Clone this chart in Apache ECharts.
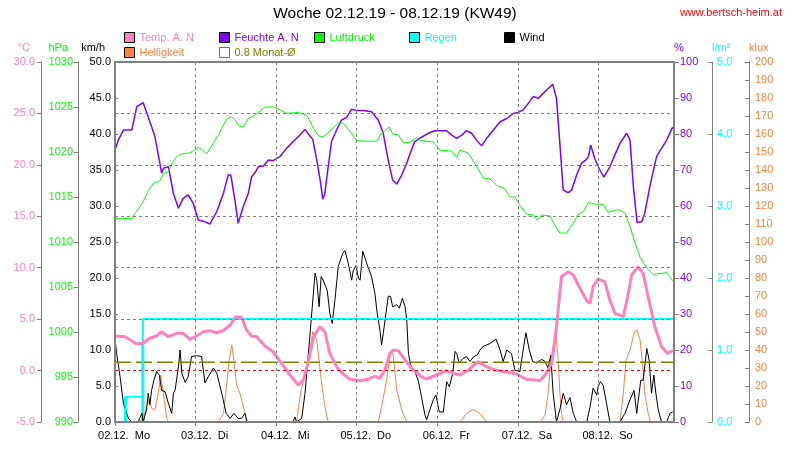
<!DOCTYPE html>
<html><head><meta charset="utf-8">
<script src="https://cdn.jsdelivr.net/npm/echarts@6/dist/echarts.min.js"></script>
<style>html,body{margin:0;padding:0;background:#fff}#c{width:790px;height:460px}</style>
</head><body><div id="c"></div>
<script>
// ---- data (x = hours since 02.12. 00:00) ----
const dayLabels = ['02.12.  Mo','03.12.  Di','04.12.  Mi','05.12.  Do','06.12.  Fr','07.12.  Sa','08.12.  So'];
const monthAvgTemp = 0.8;
const temperature = [[0,3.36],[3.0,3.29],[6.5,2.58],[8.4,2.65],[10.4,3.14],[12.4,3.36],[13.9,3.78],[15.9,3.29],[18.4,3.62],[20.3,3.62],[22.3,3.04],[24.3,3.36],[26.3,3.78],[28.3,3.88],[30.3,3.68],[32.3,3.88],[34.3,4.43],[36.0,5.24],[37.7,5.18],[39.2,3.94],[40.7,3.36],[42.2,3.29],[44.7,2.39],[47.1,1.83],[49.6,0.71],[52.1,-0.43],[54.6,-1.4],[56.1,-0.92],[57.6,0.86],[59.1,3.29],[61.1,4.27],[62.5,3.78],[64.0,1.68],[66.0,0.38],[68.0,-0.33],[70.0,-0.85],[73.0,-0.98],[75.4,-0.85],[77.4,-0.53],[78.9,-0.75],[80.4,0.06],[81.9,1.68],[82.9,2.0],[84.4,1.93],[86.4,1.03],[88.8,0.06],[91.3,-0.6],[92.8,-0.82],[95.8,-0.43],[98.8,-0.01],[100.8,-0.27],[102.7,-0.43],[105.2,0.06],[108.2,0.86],[110.7,0.38],[113.2,0.06],[116.1,-0.11],[119.6,-0.33],[122.6,-0.85],[125.1,-0.92],[126.6,-0.98],[128.1,-0.43],[130.1,0.71],[131.5,4.27],[133.0,9.13],[135.0,9.61],[136.5,9.29],[138.5,8.0],[140.5,6.79],[141.5,6.54],[142.4,8.15],[143.9,8.9],[145.9,8.64],[147.4,6.86],[148.9,5.57],[151.4,5.24],[152.9,7.51],[153.9,9.29],[155.8,10.1],[157.3,9.46],[158.8,7.18],[160.8,4.27],[162.8,2.32],[164.5,1.68],[166.1,1.93]];
const humidity = [[0,75.6],[1.0,78.3],[2.5,81.1],[5.0,81.1],[6.5,87.6],[8.4,88.7],[8.9,88.5],[10.9,82],[11.9,79.3],[13.9,69.1],[14.4,70.5],[15.9,70.9],[17.4,63.5],[18.9,59.4],[20.3,62.1],[21.8,63.1],[23.3,60.7],[24.8,56.1],[26.8,55.6],[28.3,55],[30.3,58.4],[32.3,63.5],[33.7,68.6],[34.5,68.6],[35.7,61.7],[36.7,55.2],[38.2,59.8],[39.7,63.5],[40.7,68.1],[41.7,69.3],[42.7,70.9],[44.2,71.1],[45.7,72.8],[47.1,72.6],[49.1,73.7],[51.1,76],[53.1,77.9],[55.1,79.7],[56.6,81.3],[57.6,80],[58.9,78.5],[60.1,72.8],[61.1,67.2],[61.9,61.9],[62.5,63.5],[63.5,70.9],[64.5,77.9],[66.0,81.1],[67.5,83.9],[69.0,84.6],[70.5,86.9],[72.0,86.5],[73.9,86.5],[76.4,86.2],[78.4,83.9],[79.9,80.2],[80.9,75.1],[81.9,70.5],[82.7,67.2],[83.9,66.1],[85.4,68.6],[86.9,71.9],[87.9,74.6],[89.3,77.9],[91.3,79.1],[93.3,80.2],[95.3,80.9],[98.8,80.9],[100.3,79.7],[101.8,78.8],[103.3,79.7],[104.7,80.9],[106.2,80.2],[107.7,78.3],[109.2,76.7],[110.7,78.8],[112.7,81.1],[114.7,83.4],[116.7,84.3],[118.6,85.7],[120.1,86],[121.6,86.7],[123.1,88.5],[124.6,90.4],[126.1,89.9],[128.1,91.8],[130.4,93.8],[131.5,89.9],[132.5,77.4],[133.5,64.4],[135.0,63.7],[136.0,64.4],[137.5,68.6],[139.0,71.9],[140.3,72.8],[141.0,73.7],[141.7,76.9],[142.9,73.2],[144.4,70],[145.6,68],[147.4,70.9],[148.9,74.2],[150.4,77.4],[152.4,80.2],[153.4,78.3],[154.4,65.4],[155.5,55.4],[156.9,55.6],[157.8,58],[159.3,65.4],[161.3,73.7],[162.8,76],[164.3,78.3],[166.1,81.9]];
const pressure = [[0,1012.6],[5.0,1012.6],[5.5,1013],[6.9,1013.6],[8.4,1014.5],[9.9,1015.7],[11.4,1016.5],[13.4,1016.8],[14.4,1017.6],[15.9,1017.8],[16.9,1018.7],[18.4,1019.5],[19.9,1019.8],[22.3,1019.9],[24.8,1020.5],[25.8,1020.3],[27.3,1019.8],[28.3,1020.4],[29.3,1021],[30.8,1021.9],[32.3,1023],[33.3,1023.7],[34.8,1023.9],[35.7,1023.6],[37.2,1022.8],[38.2,1022.8],[39.7,1023.7],[41.7,1024.1],[44.7,1025],[47.1,1025],[49.1,1024.7],[51.1,1024.3],[54.6,1024.4],[57.1,1024.1],[58.6,1023],[60.5,1021.8],[62.0,1021.7],[64.0,1022.3],[66.5,1023.2],[68.0,1023.2],[70.0,1022.3],[72.0,1021.3],[73.9,1021.2],[77.9,1021.2],[79.4,1022.1],[80.4,1022.3],[81.7,1022.8],[82.7,1022],[84.4,1021.9],[85.9,1021],[87.9,1021.1],[89.9,1021.6],[90.8,1021.3],[94.8,1021.1],[96.8,1020.2],[100.3,1020.1],[101.8,1019.4],[102.7,1020.2],[105.2,1019.9],[107.7,1018.4],[109.7,1017.1],[111.7,1017],[113.7,1016.3],[116.1,1015.9],[117.6,1015],[119.1,1015],[120.6,1014.1],[122.6,1013.1],[124.6,1013],[125.8,1012.4],[127.1,1013],[129.5,1012.9],[131.0,1011.9],[132.5,1011],[134.5,1011],[136.5,1012.1],[138.0,1013.1],[139.5,1013.4],[141.0,1014.4],[142.9,1014.2],[145.4,1014.2],[146.9,1013.3],[149.9,1013.6],[151.9,1013.2],[153.4,1011.7],[154.9,1009.9],[156.4,1008.3],[158.4,1007.1],[160.3,1006.4],[164.3,1006.6],[166.1,1005.7]];
const rainTotal = [[0,0],[3.1,0.35],[8.3,1.43],[166.5,1.43]];
const rainStep = [[3.1,0.35],[8.3,1.08]];
const wind = [[0,11.5],[0.5,9.5],[1.5,6.3],[2.5,2.6],[4.0,0.5],[5.0,0],[6.9,0],[8.0,1.2],[8.4,0],[9.4,1.7],[9.9,4],[10.4,2.4],[10.9,4.4],[11.6,5.8],[12.4,7],[13.2,6.5],[13.9,4.4],[14.9,4.2],[15.9,2.6],[16.9,1.2],[17.4,4],[17.9,4.4],[18.9,7.7],[19.4,10],[19.9,6.8],[20.9,5.5],[21.8,6.3],[22.8,9.1],[24.3,9.2],[25.8,9.1],[26.8,5.4],[27.8,6.3],[29.3,7.5],[30.3,6.8],[31.8,4],[33.1,1.2],[34.3,0.5],[35.4,1.2],[36.7,0.5],[37.7,0.5],[38.7,1.2],[39.4,0],[53.0,0],[53.6,0.7],[54.1,0],[55.6,0.5],[56.6,4],[57.6,9.5],[58.6,15.1],[59.6,20.7],[60.1,19.7],[60.8,16],[61.4,20.2],[62.0,19.7],[63.2,18.3],[64.0,15.1],[64.7,13.7],[65.5,16.9],[66.5,21.6],[67.8,23.4],[68.5,23.8],[69.5,22],[70.5,19.7],[71.0,21.1],[71.8,21.7],[72.5,20],[73.0,19.7],[73.8,23.7],[75.0,22],[76.4,20.2],[77.4,17.9],[78.1,15.1],[78.9,12.8],[79.4,10.7],[79.9,12.3],[80.7,15.1],[81.4,17.5],[82.1,17.4],[82.7,16],[83.9,16.3],[84.7,15.8],[85.6,17.2],[86.4,16],[86.9,14.2],[87.4,9.5],[88.1,7.9],[89.3,7],[90.3,5.8],[91.3,3.5],[92.3,1],[92.8,0.3],[93.8,1.7],[94.8,3.1],[95.6,3.75],[96.6,1.4],[97.8,1.4],[98.8,5.6],[99.6,4.9],[100.6,6.8],[101.3,9.8],[101.8,9.5],[102.5,8.2],[103.6,8.8],[104.7,9.1],[105.7,8.4],[106.9,9.1],[107.9,9.3],[108.7,10],[109.7,10.5],[111.7,10.9],[113.5,11.5],[114.7,10],[115.6,8.4],[116.7,10],[118.1,9.5],[119.1,7.2],[119.6,7],[120.6,7],[121.4,9.5],[122.4,12.4],[123.4,10],[124.4,8.4],[125.6,8.2],[127.1,8.7],[128.1,8.4],[129.0,7.5],[129.8,9.3],[130.5,4],[131.5,0],[132.5,1.7],[133.5,4],[134.5,2.4],[135.5,3.4],[136.5,1.2],[137.5,0],[140.5,0],[141.5,2.1],[142.4,4.7],[143.5,3.75],[143.9,4.9],[144.6,5.6],[145.4,5.1],[146.4,2.6],[147.4,0],[150.4,0],[151.9,1.2],[153.4,3.1],[154.6,4.4],[155.4,1.2],[156.6,5.8],[157.3,5.8],[158.4,10.2],[159.1,8.6],[159.8,4],[160.5,6.5],[161.1,4],[161.8,1.7],[162.8,0],[164.3,0],[165.3,1.2],[166.1,1.4]];
const brightness = [[0,0],[6.9,0],[8.4,2],[9.4,8.5],[10.2,12],[10.9,7.6],[11.9,6.7],[12.9,16],[13.6,26],[14.4,16],[15.4,2],[15.9,0],[30.8,0],[32.3,4.8],[33.3,21.5],[34.0,34.4],[34.8,42.8],[35.4,34.4],[36.2,20.6],[37.2,16],[38.0,10.4],[38.7,4.8],[39.2,0],[54.1,0],[55.1,14],[56.1,23.3],[57.6,34.4],[58.9,50.2],[60.1,45.6],[61.3,25.2],[62.5,8.5],[63.5,0],[78.4,0],[79.4,8.5],[80.9,23.3],[82.0,38],[82.6,40],[83.1,33],[83.9,18],[85.4,6.7],[86.9,0],[102.7,0],[104.7,4.8],[106.7,7],[108.7,4.8],[110.7,0],[126.6,0],[128.1,3.9],[129.0,16],[129.8,34.4],[130.5,41.8],[131.3,50.2],[132.0,34.4],[132.5,16],[133.0,4.8],[133.5,0],[150.4,0],[151.4,16],[152.2,34.4],[153.4,40],[154.6,49.3],[155.4,51.5],[156.4,45.6],[157.2,30.7],[157.8,16],[158.8,4.8],[159.5,0],[166.5,0]];

// ---- styling ----
const FONT = '"Liberation Sans", Arial, sans-serif';
const FS = 11;
const XMAX = 166.5;
const LABEL_SHIFT = 2.7;
const GRAY = '#808080';
const C = {temp:'#FF80C0', bright:'#FF8040', hum:'#8000FF', avg:'#808000', press:'#00FF00', rain:'#00FFFF', wind:'#000000'};

function yAx(o) {
  const left = o.position === 'left';
  return {
    type: 'value', position: o.position, offset: o.offset, min: o.min, max: o.max, interval: o.interval,
    z: o.z || 5,
    name: o.name, nameLocation: 'end', nameGap: 9,
    nameTextStyle: {color: o.color, fontSize: FS, fontFamily: FONT, align: left ? 'right' : 'left', padding: left ? [0, o.namePad, 0, 0] : [0, 0, 0, 0]},
    axisLine: {show: true, onZero: false, lineStyle: {color: GRAY, width: o.lw || 1}},
    axisTick: {show: true, inside: !!o.inside, length: o.tl || 4, lineStyle: {color: GRAY}},
    axisLabel: {color: o.color, fontSize: FS, fontFamily: FONT, margin: o.margin, formatter: o.fmt},
    splitLine: o.split || {show: false}
  };
}

const chart = echarts.init(document.getElementById('c'), null, {renderer: 'canvas'});
const legendBase = {orient: 'vertical', top: 32, padding: 0, icon: 'rect', itemWidth: 10, itemHeight: 10, itemGap: 4,
  selectedMode: false, itemStyle: {borderColor: '#000', borderWidth: 1},
  textStyle: {fontSize: FS, fontFamily: FONT, lineHeight: 10}};
const gridLines = [GRAY, '#FF0000', GRAY, GRAY, GRAY, GRAY, GRAY, GRAY];

chart.setOption({
  animation: false,
  backgroundColor: '#fff',
  title: [
    {text: 'Woche 02.12.19 - 08.12.19 (KW49)', left: 'center', top: 6, padding: 0,
     textStyle: {fontSize: 15.5, fontWeight: 'normal', color: '#000', fontFamily: FONT}},
    {text: 'www.bertsch-heim.at', right: 8, top: 7, padding: 0,
     textStyle: {fontSize: 11, fontWeight: 'normal', color: '#FF0000', fontFamily: FONT}}
  ],
  legend: [
    Object.assign({}, legendBase, {left: 124, data: [{name: 'Temp. A. N', textStyle: {color: C.temp}}, {name: 'Helligkeit', textStyle: {color: C.bright}}]}),
    Object.assign({}, legendBase, {left: 219, data: [{name: 'Feuchte A. N', textStyle: {color: C.hum}}, {name: '0.8 Monat-Ø', textStyle: {color: C.avg}, itemStyle: {color: '#fff', borderColor: C.avg}}]}),
    Object.assign({}, legendBase, {left: 314, data: [{name: 'Luftdruck', textStyle: {color: C.press}}]}),
    Object.assign({}, legendBase, {left: 409, data: [{name: 'Regen', textStyle: {color: C.rain}}]}),
    Object.assign({}, legendBase, {left: 504, data: [{name: 'Wind', textStyle: {color: '#000'}}]})
  ],
  grid: {left: 115, right: 116, top: 62, bottom: 38, containLabel: false},
  xAxis: [
    {type: 'value', min: 0, max: XMAX, interval: 24, position: 'bottom', z: 10,
     axisLine: {show: true, onZero: false, lineStyle: {color: GRAY, width: 2}},
     axisTick: {show: true, length: 4, lineStyle: {color: GRAY}, customValues: dayLabels.map((d, i) => i * 24)},
     axisLabel: {color: '#000', fontSize: FS, fontFamily: FONT, margin: 8,
       customValues: dayLabels.map((d, i) => i * 24 + LABEL_SHIFT),
       formatter: v => dayLabels[Math.round((v - LABEL_SHIFT) / 24)] || ''},
     splitLine: {show: true, lineStyle: {color: GRAY, type: [3, 3], width: 1}}},
    {type: 'value', min: 0, max: XMAX, position: 'top', z: 10,
     axisLine: {show: true, onZero: false, lineStyle: {color: GRAY, width: 2}},
     axisTick: {show: false}, axisLabel: {show: false}, splitLine: {show: false}}
  ],
  yAxis: [
    yAx({position: 'left', offset: 0, min: 0, max: 50, interval: 5, name: 'km/h', color: '#000', namePad: 10, lw: 2, inside: true, tl: 3, margin: 4, z: 10, fmt: v => v.toFixed(1)}),
    yAx({position: 'left', offset: 74, min: -5, max: 30, interval: 5, name: '°C', color: C.temp, namePad: 11, margin: 6, fmt: v => v.toFixed(1),
         split: {show: true, lineStyle: {color: gridLines, type: [3, 3], width: 1}}}),
    yAx({position: 'left', offset: 37, min: 990, max: 1030, interval: 5, name: 'hPa', color: C.press, namePad: 10, margin: 5, fmt: v => String(v)}),
    yAx({position: 'right', offset: 0, min: 0, max: 100, interval: 10, name: '%', color: C.hum, lw: 2, tl: 5, margin: 6, z: 10, fmt: v => String(v)}),
    yAx({position: 'right', offset: 38, min: 0, max: 5, interval: 1, name: 'l/m²', color: C.rain, inside: true, margin: 5, fmt: v => v.toFixed(1)}),
    yAx({position: 'right', offset: 75, min: 0, max: 200, interval: 10, name: 'klux', color: C.bright, inside: true, margin: 6, fmt: v => String(v)})
  ],
  series: [
    {name: 'Helligkeit', type: 'line', yAxisIndex: 5, data: brightness, symbol: 'none', color: C.bright, lineStyle: {width: 1, color: C.bright}},
    {name: 'Wind', type: 'line', yAxisIndex: 0, data: wind, symbol: 'none', color: C.wind, lineStyle: {width: 1, color: C.wind}},
    {name: '0.8 Monat-Ø', type: 'line', yAxisIndex: 1, data: [[0, monthAvgTemp], [XMAX, monthAvgTemp]], symbol: 'none', color: C.avg, lineStyle: {width: 1.5, color: C.avg, type: [16, 5]}},
    {name: 'Feuchte A. N', type: 'line', yAxisIndex: 3, data: humidity, symbol: 'none', color: C.hum, lineStyle: {width: 1.5, color: C.hum}},
    {name: 'Luftdruck', type: 'line', yAxisIndex: 2, data: pressure, symbol: 'none', color: C.press, lineStyle: {width: 1, color: C.press}},
    {name: 'Regen', type: 'bar', yAxisIndex: 4, data: rainStep, barWidth: 3, color: C.rain, itemStyle: {color: C.rain}},
    {name: 'Regen', type: 'line', yAxisIndex: 4, data: rainTotal, step: 'end', symbol: 'none', color: C.rain, lineStyle: {width: 2, color: C.rain}},
    {name: 'Temp. A. N', type: 'line', yAxisIndex: 1, data: temperature, symbol: 'none', color: C.temp, lineStyle: {width: 3, color: C.temp}}
  ]
});
</script></body></html>
